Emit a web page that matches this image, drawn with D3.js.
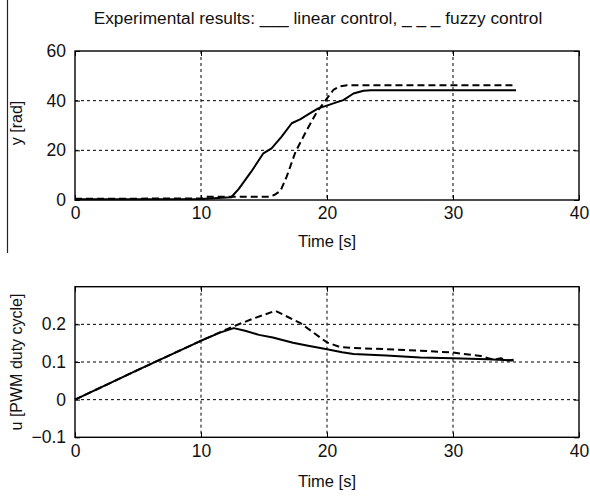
<!DOCTYPE html>
<html>
<head>
<meta charset="utf-8">
<script src="https://cdn.jsdelivr.net/npm/d3@7"></script>
<style>
  body { margin: 0; background: #fff; }
  svg { display: block; }
  text { font-family: "Liberation Sans", Arial, sans-serif; fill: #111; }
</style>
</head>
<body>
<svg id="chart" width="590" height="496"></svg>
<script>
// ---- Data ----
const titleText = "Experimental results: ___ linear control, _ _ _ fuzzy control";
const xTicks = [0, 10, 20, 30, 40];
const yTicksTop = [0, 20, 40, 60];
const yTicksBottom = [-0.1, 0, 0.1, 0.2];

// Top plot: y [rad]
const linearYTime  = [0, 5, 10, 12.4, 13, 14, 14.95, 15.6, 16.4, 17.2, 17.9, 18.6, 19.3, 20.1, 20.8, 21.3, 22.1, 22.9, 23.5, 35];
const linearYVal   = [0.3, 0.3, 0.4, 1.1, 4.5, 11.5, 18.8, 20.8, 25.5, 30.9, 32.6, 34.8, 36.9, 38.2, 39.4, 40.2, 42.9, 44, 44.2, 44.2];
const fuzzyYTime   = [0, 10, 10.4, 15.4, 15.8, 16.3, 16.8, 17.5, 18.4, 19.2, 20, 20.5, 21.0, 21.6, 35];
const fuzzyYVal    = [0.5, 0.6, 1.3, 1.3, 2.0, 3.6, 9.4, 19.4, 28.2, 35.5, 40.9, 44.3, 45.7, 46.2, 46.2];

// Bottom plot: u [PWM duty cycle]
const linearUTime  = [0, 5, 9.9, 11.5, 12.6, 13.5, 14.6, 15.7, 17.3, 18.5, 20, 21.2, 22.1, 24.7, 27.4, 30, 32.7, 34.8];
const linearUVal   = [0, 0.079, 0.155, 0.178, 0.19, 0.183, 0.172, 0.165, 0.151, 0.143, 0.134, 0.126, 0.121, 0.117, 0.112, 0.110, 0.107, 0.104];
const fuzzyUTime   = [0, 5, 9.9, 12.6, 14.2, 15.9, 17.9, 20, 21, 22.1, 24.7, 27.4, 30, 32.2, 32.8, 33.3, 33.8, 34.3, 34.8];
const fuzzyUVal    = [0, 0.079, 0.155, 0.195, 0.216, 0.236, 0.203, 0.152, 0.140, 0.137, 0.134, 0.130, 0.125, 0.116, 0.110, 0.106, 0.110, 0.104, 0.106];

// ---- Drawing ----
const svg = d3.select("#chart");

// cosmetic vertical line at the left edge (present in the reference image)
svg.append("line").attr("x1", 7.5).attr("x2", 7.5).attr("y1", 0).attr("y2", 253)
  .attr("stroke", "#222").attr("stroke-width", 1.2);

svg.append("text").attr("x", 318).attr("y", 24).attr("text-anchor", "middle")
  .style("font-size", "17.3px").text(titleText);

function zip(t, v) { return t.map((d, i) => [d, v[i]]); }

function panel(opts) {
  const { left, right, top, bottom, yDomain, yTicks, yFmt, yLabel, yLabelY, series, xLabelY } = opts;
  const x = d3.scaleLinear().domain([0, 40]).range([left, right]);
  const y = d3.scaleLinear().domain(yDomain).range([bottom, top]);
  const g = svg.append("g");

  // grid
  g.append("g").selectAll("line").data(xTicks.slice(1, -1)).join("line")
    .attr("x1", d => x(d)).attr("x2", d => x(d)).attr("y1", top).attr("y2", bottom)
    .attr("stroke", "#000").attr("stroke-width", 1).attr("stroke-dasharray", "3,3");
  g.append("g").selectAll("line").data(yTicks.filter(d => y(d) > top + 1 && y(d) < bottom - 1)).join("line")
    .attr("x1", left).attr("x2", right).attr("y1", d => y(d)).attr("y2", d => y(d))
    .attr("stroke", "#000").attr("stroke-width", 1).attr("stroke-dasharray", "3,3");

  // axes (ticks inward, on all four sides)
  const tl = 5;
  g.append("g").attr("transform", `translate(0,${bottom})`)
    .call(d3.axisBottom(x).tickValues(xTicks).tickSizeInner(-tl).tickSizeOuter(0).tickPadding(7).tickFormat(d3.format("d")))
    .call(a => a.select(".domain").remove())
    .call(a => a.selectAll("text").style("font-size", "17.5px").attr("fill", "#111"));
  g.append("g").attr("transform", `translate(0,${top})`)
    .call(d3.axisTop(x).tickValues(xTicks).tickSizeInner(-tl).tickSizeOuter(0).tickFormat(""))
    .call(a => a.select(".domain").remove());
  g.append("g").attr("transform", `translate(${left},0)`)
    .call(d3.axisLeft(y).tickValues(yTicks).tickSizeInner(-tl).tickSizeOuter(0).tickPadding(9).tickFormat(yFmt))
    .call(a => a.select(".domain").remove())
    .call(a => a.selectAll("text").style("font-size", "17.5px").attr("fill", "#111"));
  g.append("g").attr("transform", `translate(${right},0)`)
    .call(d3.axisRight(y).tickValues(yTicks).tickSizeInner(-tl).tickSizeOuter(0).tickFormat(""))
    .call(a => a.select(".domain").remove());
  g.selectAll(".tick line").attr("stroke", "#000");

  // data
  const line = d3.line().x(d => x(d[0])).y(d => y(d[1]));
  series.forEach(s => {
    g.append("path").datum(zip(s.t, s.v)).attr("d", line)
      .attr("fill", "none").attr("stroke", "#000").attr("stroke-width", 2)
      .attr("stroke-linejoin", "round")
      .attr("stroke-dasharray", s.dash || null);
  });

  // box
  g.append("rect").attr("x", left).attr("y", top).attr("width", right - left).attr("height", bottom - top)
    .attr("fill", "none").attr("stroke", "#000").attr("stroke-width", 1.4);

  // labels
  g.append("text").attr("x", (left + right) / 2).attr("y", xLabelY).attr("text-anchor", "middle")
    .style("font-size", "16.5px").text("Time [s]");
  g.append("text").attr("transform", `translate(22,${yLabelY}) rotate(-90)`).attr("text-anchor", "middle")
    .style("font-size", "16px").text(yLabel);
}

panel({
  left: 75, right: 579, top: 51, bottom: 200,
  yDomain: [0, 60], yTicks: yTicksTop, yFmt: d3.format("d"),
  yLabel: "y [rad]", yLabelY: 123, xLabelY: 247,
  series: [
    { t: linearYTime, v: linearYVal },
    { t: fuzzyYTime, v: fuzzyYVal, dash: "7,4" }
  ]
});

panel({
  left: 75, right: 579, top: 286.7, bottom: 437.3,
  yDomain: [-0.1, 0.3], yTicks: yTicksBottom, yFmt: d => (d === 0 ? "0" : d3.format(".1f")(d)),
  yLabel: "u [PWM duty cycle]", yLabelY: 362, xLabelY: 487,
  series: [
    { t: linearUTime, v: linearUVal },
    { t: fuzzyUTime, v: fuzzyUVal, dash: "7,4" }
  ]
});
</script>
</body>
</html>
